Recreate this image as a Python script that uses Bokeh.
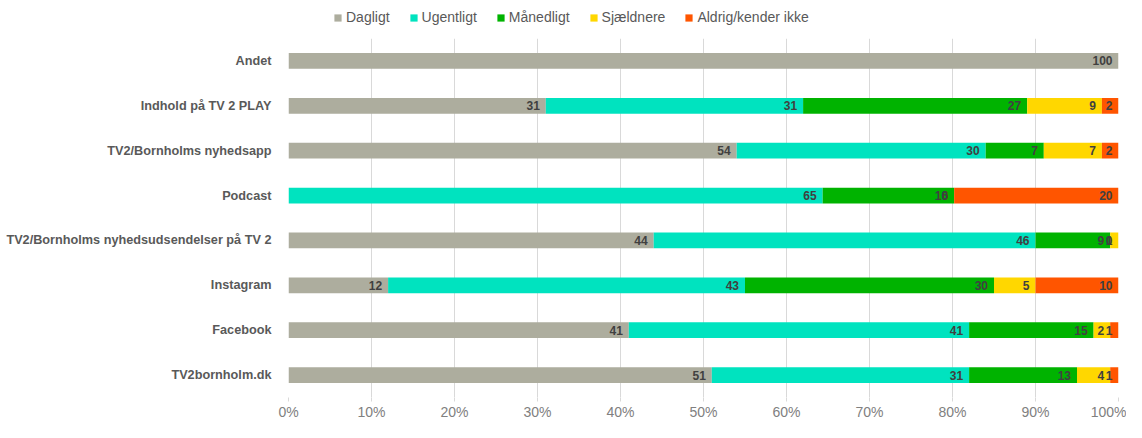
import numpy as np
import pandas as pd
from bokeh.plotting import figure
from bokeh.layouts import column
from bokeh.models import (ColumnDataSource, FactorRange, Range1d, FixedTicker, Legend,
                          LegendItem, Label)
from bokeh.core.properties import value
from bokeh.embed import file_html
from bokeh.resources import INLINE

# ---- data (top row first) ----
categories = ["Andet", "Indhold på TV 2 PLAY", "TV2/Bornholms nyhedsapp", "Podcast",
              "TV2/Bornholms nyhedsudsendelser på TV 2", "Instagram", "Facebook", "TV2bornholm.dk"]
series = ["Dagligt", "Ugentligt", "Månedligt", "Sjældnere", "Aldrig/kender ikke"]
dagligt = [100, 31, 54, 0, 44, 12, 41, 51]
ugentligt = [np.nan, 31, 30, 65, 46, 43, 41, 31]
maanedligt = [np.nan, 27, 7, 16, 9, 30, 15, 13]
sjaeldnere = [np.nan, 9, 7, 0, 1, 5, 2, 4]
aldrig = [np.nan, 2, 2, 20, 0, 10, 1, 1]
colors = ["#ADAD9E", "#00E3BF", "#00B300", "#FFD700", "#FF5500"]
x_ticks = list(range(0, 101, 10))

FONT = "Liberation Sans"

df = pd.DataFrame({"cat": categories, "Dagligt": dagligt, "Ugentligt": ugentligt,
                   "Månedligt": maanedligt, "Sjældnere": sjaeldnere,
                   "Aldrig/kender ikke": aldrig})
vals = df[series].fillna(0)
tot = vals.sum(axis=1)
pct = vals.div(tot, axis=0) * 100
keys = ["s0", "s1", "s2", "s3", "s4"]
src_data = {"cat": categories}
for k, s in zip(keys, series):
    src_data[k] = pct[s].tolist()
source = ColumnDataSource(src_data)

W = 1126
LEG_H = 30
MAIN_H = 392
B_TOP, B_BOT = 8, 18
FRAME_H = MAIN_H - B_TOP - B_BOT

# ---- legend strip ----
lg = figure(width=W, height=LEG_H, x_range=Range1d(0, 1), y_range=Range1d(0, 1),
            output_backend="svg", toolbar_location=None,
            min_border_left=0, min_border_right=0, min_border_top=0, min_border_bottom=0)
lg.axis.visible = False
lg.grid.visible = False
lg.outline_line_color = None
offscreen = ColumnDataSource(dict(x=[-5], y=[-5]))
dummies = [lg.rect(x="x", y="y", width=0.1, height=0.1, fill_color=c, line_color=None,
                   source=offscreen) for c in colors]
legend = Legend(items=[LegendItem(label=s, renderers=[r]) for s, r in zip(series, dummies)],
                orientation="horizontal", location=(45, 5), padding=0, margin=0, spacing=19,
                glyph_width=9, glyph_height=9, label_standoff=4,
                label_text_font=FONT, label_text_font_size="14px", label_text_color="#595959",
                border_line_color=None, background_fill_alpha=0)
lg.add_layout(legend)

# ---- main chart ----
factors = list(reversed(categories))
p = figure(width=W, height=MAIN_H, y_range=FactorRange(factors=factors, range_padding=0),
           x_range=Range1d(0, 100), output_backend="svg", toolbar_location=None,
           min_border_left=288, min_border_right=8, min_border_top=B_TOP, min_border_bottom=B_BOT)
p.outline_line_color = None

p.hbar_stack(keys, y="cat", height=0.35, color=colors, source=source, line_width=0)

# value labels at inside end
cum = pct.cumsum(axis=1)
lx, ly, lt = [], [], []
for i, cat in enumerate(categories):
    for s in series:
        v = df.loc[i, s]
        if pd.isna(v):
            continue
        lx.append(float(cum.loc[i, s]))
        ly.append(cat)
        lt.append(str(int(round(v))))
lsrc = ColumnDataSource(dict(x=lx, y=ly, t=lt))
p.text(x="x", y="y", text="t", source=lsrc, x_offset=-6, text_align="right",
       text_baseline="middle", text_font=value(FONT), text_font_size="12px",
       text_font_style="bold", text_color="#404040")

# a zero label of the first segment sits left of the frame: draw it as an annotation
for x, y, t in zip(lx, ly, lt):
    if x <= 0:
        ys = (factors.index(y) + 0.5) / len(factors) * FRAME_H
        p.add_layout(Label(x=x, y=ys, y_units="screen", text=t, x_offset=-6, text_align="right",
                           text_baseline="middle", text_font=FONT, text_font_size="12px",
                           text_font_style="bold", text_color="#404040"))

# axes
p.xaxis.ticker = FixedTicker(ticks=x_ticks)
p.xaxis.major_label_overrides = {t: f"{t}%" for t in x_ticks}
p.xaxis.axis_line_color = None
p.xaxis.major_tick_in = 0
p.xaxis.major_tick_out = 4
p.xaxis.major_tick_line_color = "#D9D9D9"
p.xaxis.minor_tick_line_color = None
p.xaxis.major_label_text_font = FONT
p.xaxis.major_label_text_font_size = "14px"
p.xaxis.major_label_text_color = "#808080"
p.xaxis.major_label_standoff = 2

p.yaxis.axis_line_color = None
p.yaxis.major_tick_line_color = None
p.yaxis.minor_tick_line_color = None
p.yaxis.major_label_text_font = FONT
p.yaxis.major_label_text_font_size = "12.7px"
p.yaxis.major_label_text_font_style = "bold"
p.yaxis.major_label_text_color = "#595959"
p.yaxis.major_label_standoff = 11

p.xgrid.grid_line_color = "#D9D9D9"
p.ygrid.grid_line_color = None

layout = column(lg, p, spacing=0)
open("out.html", "w").write(file_html(layout, INLINE))
